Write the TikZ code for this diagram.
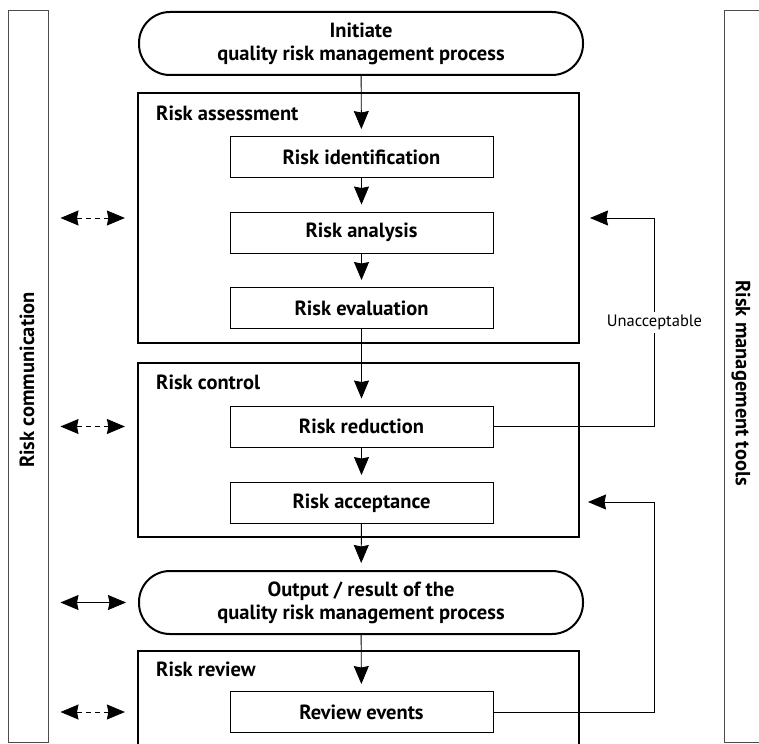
\documentclass[tikz,border=0pt]{standalone}
\usepackage{fontspec}
\setmainfont{PT Sans}
\usetikzlibrary{arrows.meta, positioning}
\tikzset{
	stepbox/.style={draw, rectangle, line width=0.9pt, inner sep=2pt, minimum width=263pt, minimum height=41pt, font=\bfseries\fontsize{20.5}{23}\selectfont},
	terminal/.style={draw, rectangle, rounded corners=31pt, line width=2pt, minimum width=444pt, minimum height=63pt, inner sep=1pt, align=center, font=\bfseries\fontsize{20.5}{23}\selectfont},
	phase/.style={draw, rectangle, line width=2.2pt, minimum width=441pt},
	% titles in the top left corner of the phases
	phaselabel/.style={anchor=north west, inner sep=0pt, font=\bfseries\fontsize{20.5}{23}\selectfont},
	sidebar/.style={draw=black!70, rectangle, line width=1pt, minimum width=40pt, minimum height=731pt},
	sidetext/.style={font=\bfseries\fontsize{20.5}{23}\selectfont},
	talk/.style={<->, shorten <=12pt, shorten >=12pt},
}

\begin{document}
\begin{tikzpicture}[x=1pt, y=-1pt, node distance=75.5pt]
		\useasboundingbox (0,0) rectangle (759,743);
		
		\node (comm) [sidebar] at (28,376.5) {};
		\node (commtext) [sidetext, rotate=90] at (27,380) {Risk communication};
		\node (tools) [sidebar] at (744,376.5) {};
		\node (toolstext) [sidetext, rotate=-90] at (741,383) {Risk management tools};
		
		\node (assess) [phase, minimum height=250pt] at (358.5,218) {};
		\node (control) [phase, minimum height=174pt] at (358.5,450) {};
		\node (review) [phase, minimum height=149pt] at (358.5,725.5) {};
		\node (assesslbl) [phaselabel] at (156,106) {Risk assessment};
		\node (controllbl) [phaselabel] at (156,375) {Risk control};
		\node (reviewlbl) [phaselabel] at (156,662) {Risk review};
		
		\node (init) [terminal] at (361,43.5) {Initiate\\quality risk management process};
		
		\node (ident) [stepbox] at (361.5,157) {Risk identification};
		\node (analysis) [stepbox, below of=ident] {Risk analysis};
		\node (evaluation) [stepbox, below of=analysis] {Risk evaluation};
		
		\node (reduction) [stepbox] at (361.5,426.5) {Risk reduction};
		\node (acceptance) [stepbox, below of=reduction, yshift=-1pt] {Risk acceptance};
		
		\node (output) [terminal] at (361,602.5) {Output / result of the\\quality risk management process};
		\node (events) [stepbox] at (361.5,712) {Review events};
		
		\coordinate (back1) at (590,218);
		\coordinate (back2) at (588,502);
		
		\begin{scope}[line width=0.9pt, black, ->, >={Stealth[length=18pt, width=15pt, inset=1.5pt]}]
			\draw[shorten >=7pt] (init) -- (ident);
			\draw[shorten >=7pt] (ident) -- (analysis);
			\draw[shorten >=7pt] (analysis) -- (evaluation);
			\draw[shorten >=7pt] (evaluation) -- (reduction);
			\draw[shorten >=7pt] (reduction) -- (acceptance);
			\draw[shorten >=7pt] (acceptance) -- (output);
			\draw[shorten >=7pt] (output) -- (events);
			
			\draw (reduction.east) -- ++(161,0) |- node[pos=0.25, fill=white, inner sep=3pt, font=\fontsize{16.5}{19}\selectfont] {Unacceptable} (back1);
			\draw (events.east) -- ++(161,0) |- (back2);
			
			\draw[talk, dash pattern=on 5pt off 4pt] (comm.east |- assess) -- (assess.west);
			\draw[talk, dash pattern=on 5pt off 4pt] (comm.east |- reduction) -- (control.west |- reduction);
			\draw[talk] (comm.east |- output) -- (output.west);
			\draw[talk, dash pattern=on 5pt off 4pt] (comm.east |- events) -- (review.west |- events);
		\end{scope}
	\end{tikzpicture}
\end{document}
